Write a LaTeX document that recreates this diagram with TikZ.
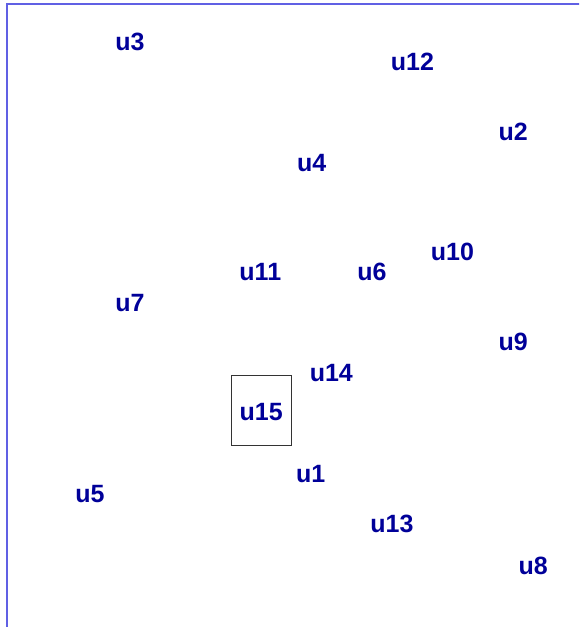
\documentclass[tikz,border=0pt]{standalone}
\usepackage{fontspec}
\setmainfont{Liberation Sans}
\usetikzlibrary{positioning}
\definecolor{userBlue}{RGB}{0,0,153}
\definecolor{frameBlue}{RGB}{96,96,228}
\tikzset{
  user node/.style={text=userBlue,font=\bfseries\fontsize{25}{27}\selectfont,inner sep=1pt},
  focus box/.style={draw=black!80,line width=0.9pt,minimum width=60pt,minimum height=70pt},
  frame line/.style={draw=frameBlue,line width=2pt}
}

\begin{document}
\begin{tikzpicture}[x=1pt,y=-1pt]
        \useasboundingbox (0,0) rectangle (579,627);
        \clip (0,0) rectangle (579,627);
        \draw[frame line] (6.5,640) -- (6.5,4) -- (590,4);
        \node[user node] (u3) at (130,42) {u3};
        \node[user node] (u12) at (412.5,61.5) {u12};
        \node[user node] (u2) at (513.3,131.7) {u2};
        \node[user node] (u4) at (311.7,163.3) {u4};
        \node[user node] (u10) at (452.5,252.2) {u10};
        \node[user node] (u11) at (260.3,271.7) {u11};
        \node[user node] (u6) at (372,271.7) {u6};
        \node[user node] (u7) at (130,303.3) {u7};
        \node[user node] (u9) at (513.3,341.7) {u9};
        \node[user node] (u14) at (331.3,373.5) {u14};
        \node[user node] (u15) at (261.2,412.2) {u15};
        \node[focus box] (box15) at (261,410.4) {};
        \node[user node] (u1) at (310.8,473.7) {u1};
        \node[user node] (u5) at (90,494.2) {u5};
        \node[user node] (u13) at (392,524.2) {u13};
        \node[user node] (u8) at (533.2,565.8) {u8};
      \end{tikzpicture}
\end{document}
